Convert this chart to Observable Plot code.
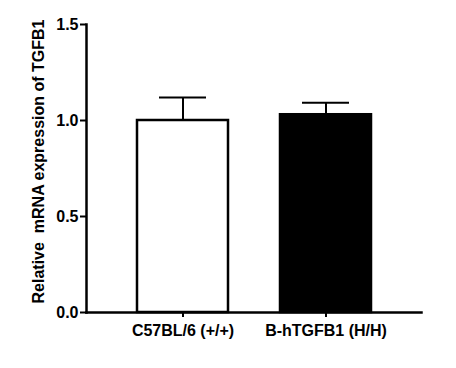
<!DOCTYPE html>
<html><head><meta charset="utf-8">
<script src="https://cdn.jsdelivr.net/npm/d3@7"></script>
<script src="https://cdn.jsdelivr.net/npm/@observablehq/plot@0.6"></script>
<style>body{margin:0;background:#fff}svg{font-family:"Liberation Sans",Arial,sans-serif}</style>
</head><body><div id="chart"></div>
<script>
const categories = ["C57BL/6 (+/+)", "B-hTGFB1 (H/H)"];
const means = [1.0, 1.03];
const errors = [0.12, 0.063];
const fills = ["white", "black"];
const yTicks = [0, 0.5, 1.0, 1.5];
const yLabel = "Relative  mRNA expression of TGFB1";

const data = categories.map((c, i) => ({cat: c, mean: means[i], err: errors[i], fill: fills[i]}));

const chart = Plot.plot({
  width: 456, height: 368,
  marginLeft: 86, marginRight: 35, marginTop: 24, marginBottom: 56,
  style: {fontFamily: '"Liberation Sans",Arial,sans-serif', fontWeight: "bold", fontSize: "16px", color: "black", background: "white"},
  x: {domain: categories, paddingInner: 0.35, paddingOuter: 0.34, label: null},
  y: {domain: [0, 1.5], label: null},
  marks: [
    Plot.ruleX(data, {x: "cat", y1: "mean", y2: d => d.mean + d.err, stroke: "black", strokeWidth: 2}),
    Plot.tickY(data, {x: "cat", y: d => d.mean + d.err, stroke: "black", strokeWidth: 2, insetLeft: 23, insetRight: 23}),
    Plot.barY(data, {x: "cat", y: "mean", fill: "fill", stroke: "black", strokeWidth: 2.5, insetLeft: 1, insetRight: 1}),
    Plot.axisY({ticks: yTicks, tickFormat: d3.format(".1f"), tickSize: 6, tickPadding: 2, strokeWidth: 2, fontSize: 16, fontWeight: "bold", label: null}),
    Plot.axisX({tickSize: 5, tickPadding: 7, strokeWidth: 2, fontSize: 16, fontWeight: "bold", label: null}),
    Plot.frame({anchor: "left", stroke: "black", strokeWidth: 2.5}),
    Plot.frame({anchor: "bottom", stroke: "black", strokeWidth: 2.5}),
    Plot.text([yLabel], {frameAnchor: "left", textAnchor: "middle", dx: -48, dy: -7, rotate: -90, fontSize: 16, fontWeight: "bold", fill: "black"})
  ]
});
document.getElementById("chart").appendChild(chart);
</script></body></html>
